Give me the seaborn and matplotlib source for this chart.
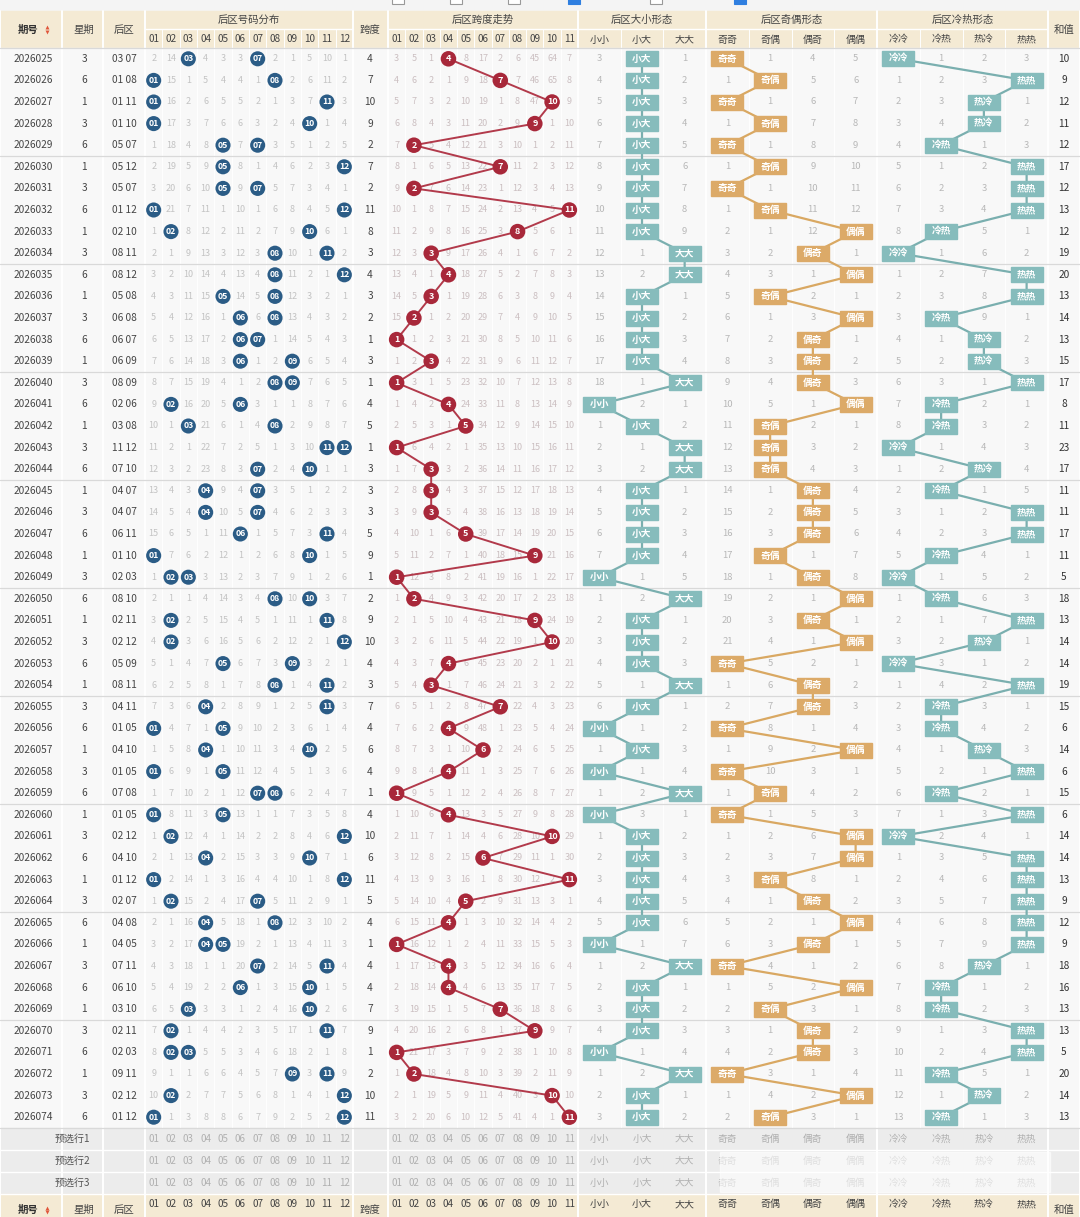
import numpy as np
import pandas as pd
import matplotlib
matplotlib.use('Agg')
import matplotlib.pyplot as plt
import seaborn as sns
from matplotlib.patches import Rectangle

sns.set_theme(style="white")
plt.rcParams['font.family'] = ['Noto Sans CJK SC', 'DejaVu Sans']

# ==================== DATA ====================
issues = ['2026025', '2026026', '2026027', '2026028', '2026029', '2026030', '2026031', '2026032', '2026033', '2026034',
          '2026035', '2026036', '2026037', '2026038', '2026039', '2026040', '2026041', '2026042', '2026043', '2026044',
          '2026045', '2026046', '2026047', '2026048', '2026049', '2026050', '2026051', '2026052', '2026053', '2026054',
          '2026055', '2026056', '2026057', '2026058', '2026059', '2026060', '2026061', '2026062', '2026063', '2026064',
          '2026065', '2026066', '2026067', '2026068', '2026069', '2026070', '2026071', '2026072', '2026073', '2026074']
weekdays = [3, 6, 1, 3, 6, 1, 3, 6, 1, 3,
            6, 1, 3, 6, 1, 3, 6, 1, 3, 6,
            1, 3, 6, 1, 3, 6, 1, 3, 6, 1,
            3, 6, 1, 3, 6, 1, 3, 6, 1, 3,
            6, 1, 3, 6, 1, 3, 6, 1, 3, 6]
back_lo = [3, 1, 1, 1, 5, 5, 5, 1, 2, 8,
           8, 5, 6, 6, 6, 8, 2, 3, 11, 7,
           4, 4, 6, 1, 2, 8, 2, 2, 5, 8,
           4, 1, 4, 1, 7, 1, 2, 4, 1, 2,
           4, 4, 7, 6, 3, 2, 2, 9, 2, 1]
back_hi = [7, 8, 11, 10, 7, 12, 7, 12, 10, 11,
           12, 8, 8, 7, 9, 9, 6, 8, 12, 10,
           7, 7, 11, 10, 3, 10, 11, 12, 9, 11,
           11, 5, 10, 5, 8, 5, 12, 10, 12, 7,
           8, 5, 11, 10, 10, 11, 3, 11, 12, 12]
hot_cold = ['冷冷', '热热', '热冷', '热冷', '冷热', '热热', '热热', '热热', '冷热', '冷冷',
            '热热', '热热', '冷热', '热冷', '热冷', '热热', '冷热', '冷热', '冷冷', '热冷',
            '冷热', '热热', '热热', '冷热', '冷冷', '冷热', '热热', '热冷', '冷冷', '热热',
            '冷热', '冷热', '热冷', '热热', '冷热', '热热', '冷冷', '热热', '热热', '热热',
            '热热', '热热', '热冷', '冷热', '冷热', '热热', '热热', '冷热', '热冷', '冷热']

# omission values shown on the first row of the table
dist_first = [2, 14, 0, 4, 3, 3, 0, 2, 1, 5, 10, 1]
span_first = [3, 5, 1, 0, 8, 17, 2, 6, 45, 64, 7]
size_first = [3, 0, 1]
oe_first = [0, 1, 4, 5]
hc_first = [0, 1, 2, 3]

dist_labels = ['%02d' % n for n in range(1, 13)]
span_labels = ['%02d' % n for n in range(1, 12)]
size_labels = ['小小', '小大', '大大']
oe_labels = ['奇奇', '奇偶', '偶奇', '偶偶']
hc_labels = ['冷冷', '冷热', '热冷', '热热']

# ==================== DERIVED COLUMNS ====================
df = pd.DataFrame({'issue': issues, 'week': weekdays, 'lo': back_lo, 'hi': back_hi, 'hc': hot_cold})
df['span'] = df['hi'] - df['lo']
df['sum'] = df['hi'] + df['lo']
df['size'] = df.apply(lambda r: size_labels[(r.lo > 6) + (r.hi > 6)], axis=1)
df['oe'] = df.apply(lambda r: ('奇' if r.lo % 2 else '偶') + ('奇' if r.hi % 2 else '偶'), axis=1)


def omissions(first, hits_per_row, n):
    out = [list(first)]
    for hits in hits_per_row[1:]:
        prev = out[-1]
        out.append([0 if k in hits else prev[k] + 1 for k in range(n)])
    return out


dist_om = omissions(dist_first, [{a - 1, b - 1} for a, b in zip(back_lo, back_hi)], 12)
span_om = omissions(span_first, [{s - 1} for s in df['span']], 11)
size_om = omissions(size_first, [{size_labels.index(s)} for s in df['size']], 3)
oe_om = omissions(oe_first, [{oe_labels.index(s)} for s in df['oe']], 4)
hc_om = omissions(hc_first, [{hc_labels.index(s)} for s in df['hc']], 4)

# ==================== LAYOUT ====================
W, H = 1080, 1217
TOP, ROW_H = 48, 21.6
n = len(df)
row_y = TOP + ROW_H * (np.arange(n) + 0.5)
body_bot = TOP + ROW_H * n


def centers(x0, x1, k):
    w = (x1 - x0) / k
    return x0 + w * (np.arange(k) + 0.5)


dist_x = centers(145, 353, 12)
span_x = centers(388, 578, 11)
size_x = centers(578, 706, 3)
oe_x = centers(706, 877, 4)
hc_x = centers(877, 1048, 4)
bounds = [0, 62, 103, 145, 353, 388, 578, 706, 877, 1048, 1080]

fig = plt.figure(figsize=(W / 100, H / 100), dpi=100)
ax = fig.add_axes([0, 0, 1, 1])
ax.set_facecolor('#f6f6f6')

BEIGE = '#f4ead4'
TXT = '#444444'
GRAY = '#c3c3c3'
TEAL = '#86bcbc'
TAN = '#dcaa68'
RED = '#a8283a'
BLUE = '#2b5c86'

# top bar with check boxes
ax.add_patch(Rectangle((0, 0), W, 11, color='#f4f4f4', zorder=0))
for bx, on in [(398, False), (456, False), (514, False), (574, True), (656, False), (740, True)]:
    ax.add_patch(Rectangle((bx - 6, -4), 12, 8, facecolor='#2f7fe0' if on else 'white',
                           edgecolor='#2f7fe0' if on else '#999999', lw=0.8, zorder=1))

# header
ax.add_patch(Rectangle((0, 11), W, TOP - 11, color=BEIGE, zorder=0))
ax.add_patch(Rectangle((0, TOP), W, body_bot - TOP, color='#f8f8f8', zorder=0))


def txt(x, y, s, size=7.5, color=TXT, weight='normal', z=5):
    ax.text(x, y, s, ha='center', va='center', fontsize=size, color=color, fontweight=weight, zorder=z)


def header(y_title, y_sub, y_single):
    txt(28, y_single, '期号', 7.5, '#333333', 'bold')
    ax.scatter([47], [y_single - 2.3], marker='^', s=8, color='#e0553a', linewidths=0, zorder=6)
    ax.scatter([47], [y_single + 2.3], marker='v', s=8, color='#e0553a', linewidths=0, zorder=6)
    txt(84, y_single, '星期')
    txt(124, y_single, '后区')
    txt(370, y_single, '跨度')
    txt(1064, y_single, '和值')
    if y_title is not None:
        for x0, x1, title in [(145, 353, '后区号码分布'), (388, 578, '后区跨度走势'), (578, 706, '后区大小形态'),
                              (706, 877, '后区奇偶形态'), (877, 1048, '后区冷热形态')]:
            txt((x0 + x1) / 2, y_title, title)
    for xs, labs in [(dist_x, dist_labels), (span_x, span_labels), (size_x, size_labels),
                     (oe_x, oe_labels), (hc_x, hc_labels)]:
        for x, lab in zip(xs, labs):
            txt(x, y_sub, lab, 7.2)


header(20, 39.5, 29.5)
ax.plot([145, 353], [29, 29], color='white', lw=1, zorder=1)
ax.plot([388, 1048], [29, 29], color='white', lw=1, zorder=1)

# preselect rows + footer header
pre_top = body_bot
ax.add_patch(Rectangle((0, pre_top), W, 66, color='#ececec', zorder=0))
for k in range(3):
    yc = pre_top + 11 + 22 * k
    txt(72, yc, '预选行%d' % (k + 1), 7.2, '#555555')
    for xs, labs in [(dist_x, dist_labels), (span_x, span_labels), (size_x, size_labels),
                     (oe_x, oe_labels), (hc_x, hc_labels)]:
        for x, lab in zip(xs, labs):
            txt(x, yc, lab, 7, '#b0b0b0')
    ax.plot([0, W], [pre_top + 22 * (k + 1)] * 2, color='white', lw=1, zorder=1)
ax.add_patch(Rectangle((720, pre_top + 24), 330, 40, color='white', alpha=0.6, zorder=7))

foot_top = pre_top + 66
ax.add_patch(Rectangle((0, foot_top), W, H - foot_top + 30, color=BEIGE, zorder=0))
header(None, foot_top + 10, H - 7)

# grid lines
for b in bounds:
    ax.plot([b, b], [11, H], color='white', lw=1.4, zorder=1)
for xs in [dist_x, span_x, size_x, oe_x, hc_x]:
    step = xs[1] - xs[0]
    for x in xs[:-1] + step / 2:
        ax.plot([x, x], [29, pre_top], color='#ffffff', lw=0.7, zorder=1)
for g in range(0, n + 1, 5):
    ax.plot([0, W], [TOP + g * ROW_H] * 2, color='#d9d9d9', lw=0.9, zorder=2)

# ==================== BODY ====================
for i, r in df.iterrows():
    y = row_y[i]
    txt(33, y, r.issue, 7.3)
    txt(84, y, str(r.week), 7.3)
    txt(124, y, '%02d %02d' % (r.lo, r.hi), 7.3)
    txt(370, y, str(r.span), 7.3)
    txt(1064, y, str(r['sum']), 7.3, '#333333')
    for k in range(12):
        if dist_om[i][k]:
            txt(dist_x[k], y, str(dist_om[i][k]), 6.5, GRAY)
    for k in range(11):
        if span_om[i][k]:
            txt(span_x[k], y, str(span_om[i][k]), 6.5, '#cbbfc1')
    for xs, om in [(size_x, size_om), (oe_x, oe_om), (hc_x, hc_om)]:
        for k in range(len(xs)):
            if om[i][k]:
                txt(xs[k], y, str(om[i][k]), 6.8, '#b8b8b8')

# blue number balls
balls = pd.DataFrame({'x': np.concatenate([dist_x[df['lo'] - 1], dist_x[df['hi'] - 1]]),
                      'y': np.concatenate([row_y, row_y]),
                      'lab': list(df['lo']) + list(df['hi'])})
sns.scatterplot(data=balls, x='x', y='y', s=118, color=BLUE, edgecolor='none', legend=False, ax=ax, zorder=8)
for bx, by, lab in zip(balls['x'], balls['y'], balls['lab']):
    txt(bx, by, '%02d' % lab, 6.3, 'white', 'bold', z=9)

# span trend line
span_pts = pd.DataFrame({'x': span_x[df['span'] - 1], 'y': row_y, 'lab': df['span']})
sns.lineplot(data=span_pts, x='x', y='y', sort=False, estimator=None, color='#b23a4b', lw=1.4, ax=ax, zorder=7)
sns.scatterplot(data=span_pts, x='x', y='y', s=125, color=RED, edgecolor='none', legend=False, ax=ax, zorder=8)
for px, py, lab in zip(span_pts['x'], span_pts['y'], span_pts['lab']):
    txt(px, py, str(int(lab)), 6.5, 'white', 'bold', z=9)

# shape columns: boxes joined by a line
for xs, labs, col, box_c, line_c in [(size_x, size_labels, 'size', TEAL, '#7aafaf'),
                                     (oe_x, oe_labels, 'oe', TAN, '#d9a862'),
                                     (hc_x, hc_labels, 'hc', TEAL, '#7aafaf')]:
    pts = pd.DataFrame({'x': [xs[labs.index(v)] for v in df[col]], 'y': row_y, 'lab': df[col]})
    sns.lineplot(data=pts, x='x', y='y', sort=False, estimator=None, color=line_c, lw=1.6, ax=ax, zorder=7)
    for px, py, lab in zip(pts['x'], pts['y'], pts['lab']):
        ax.add_patch(Rectangle((px - 16, py - 7.5), 32, 15, color=box_c, zorder=8))
        txt(px, py, lab, 7, 'white', 'bold', z=9)

ax.set_xlim(0, W)
ax.set_ylim(H, 0)
ax.axis('off')
fig.savefig('out.png', dpi=100)
